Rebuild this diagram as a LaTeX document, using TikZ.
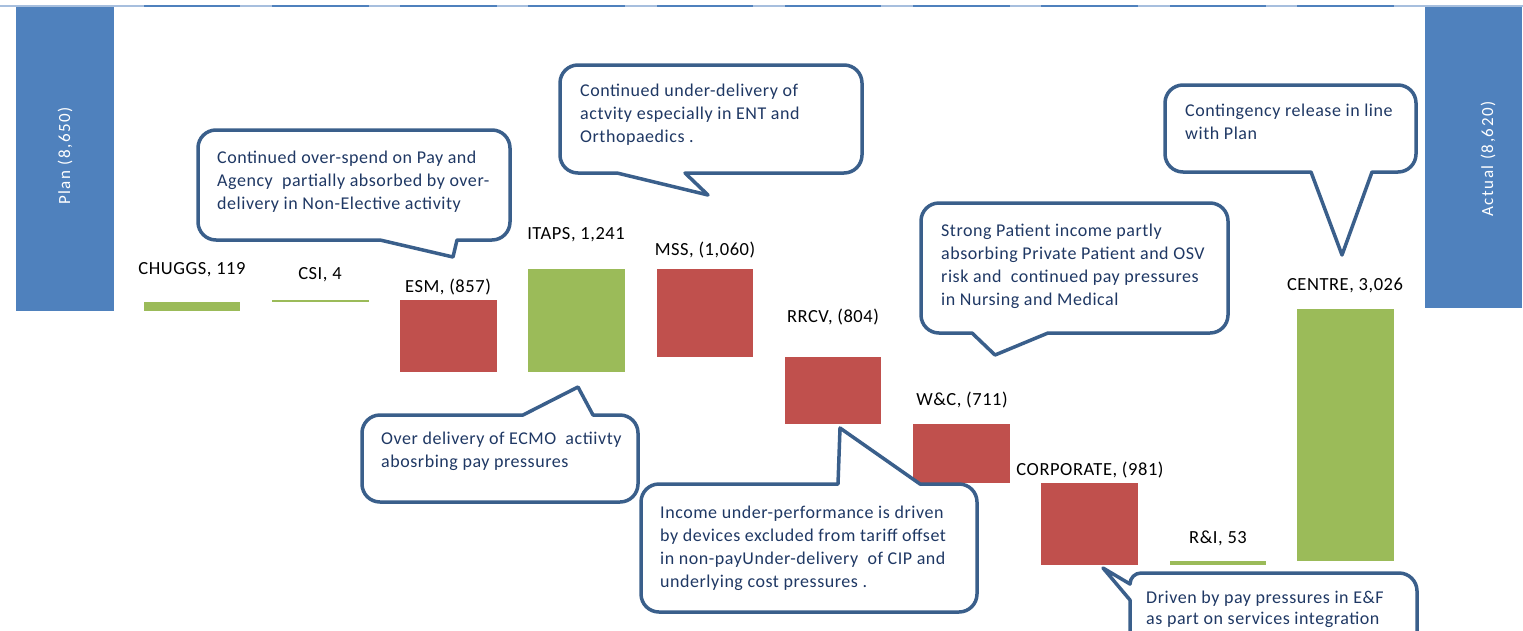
\documentclass[tikz,border=0pt]{standalone}
\usepackage{fontspec}
\setmainfont{Carlito}[LetterSpace=3]
\newfontfamily\widefont{Carlito}[LetterSpace=9]
\definecolor{barblue}{HTML}{4F81BD}
\definecolor{bargreen}{HTML}{9BBB59}
\definecolor{barred}{HTML}{C0504D}
\definecolor{callline}{HTML}{3A5F8B}
\definecolor{calltext}{HTML}{1F3864}
\definecolor{lightline}{HTML}{A7BFDE}
\begin{document}
\begin{tikzpicture}[x=1pt,y=-1pt,
  lbl/.style={font=\fontsize{18.5}{22}\selectfont, text=black, inner sep=0},
  ctext/.style={font=\fontsize{18}{23}\selectfont, text=calltext, align=left, anchor=north west, inner sep=0},
  callout/.style={draw=callline, line width=3.5pt, fill=white, line join=round},
  vtext/.style={font=\widefont\fontsize{17}{20}\selectfont, text=white, rotate=90, inner sep=0}]
\useasboundingbox (0,0) rectangle (1523,630);
\clip (0,0) rectangle (1523,630);
% top axis line
\draw[lightline, line width=2pt] (0,6) -- (1523,6);
\foreach \a/\b in {144/240,272/369,400/497,528/625,657/753,785/881,913/1010,1041/1138,1170/1266,1297/1394}
  \draw[barblue, line width=2pt] (\a,6) -- (\b,6);
% bars
\fill[barblue] (16,7) rectangle (114,311);
\fill[bargreen] (144,302) rectangle (240,311);
\fill[bargreen] (272,300) rectangle (369,302);
\fill[barred] (400,300) rectangle (497,372);
\fill[bargreen] (528,269) rectangle (625,372);
\fill[barred] (657,269) rectangle (753,357);
\fill[barred] (785,357) rectangle (881,424);
\fill[barred] (913,424) rectangle (1010,483);
\fill[barred] (1041,483) rectangle (1138,565);
\fill[bargreen] (1170,561) rectangle (1266,565);
\fill[bargreen] (1297,309) rectangle (1394,561);
\fill[barblue] (1425,7) rectangle (1522,308);
% vertical texts
\node[vtext] (plan) at (65,156) {Plan (8,650)};
\node[vtext] (actual) at (1488,159) {Actual (8,620)};
% labels
\node[lbl] (lchuggs) at (192,270) {CHUGGS,\ 119};
\node[lbl] (lcsi) at (320,275) {CSI, 4};
\node[lbl] (lesm) at (448,287) {ESM, (857)};
\node[lbl] (litaps) at (576,235) {ITAPS, 1,241};
\node[lbl] (lmss) at (705,250) {MSS, (1,060)};
\node[lbl] (lrrcv) at (833,317) {RRCV, (804)};
\node[lbl] (lwc) at (962,400) {W\&C, (711)};
\node[lbl] (lcorp) at (1090,470) {CORPORATE,\ (981)};
\node[lbl] (lri) at (1218,538) {R\&I, 53};
\node[lbl] (lcentre) at (1345,285) {CENTRE,\ 3,026};
% callout 1
\path[callout] (216,130) -- (492,130) arc[start angle=-90,end angle=0,radius=18]
  -- (510,222) arc[start angle=0,end angle=90,radius=18]
  -- (457,240) -- (453,257) -- (380,240)
  -- (216,240) arc[start angle=90,end angle=180,radius=18]
  -- (198,148) arc[start angle=180,end angle=270,radius=18] -- cycle;
\node[ctext] (c1) at (217,151) {Continued over-spend on Pay and\\Agency\ \ partially absorbed by over-\\delivery in Non-Elective activity};
% callout 2
\path[callout] (578,65) -- (844,65) arc[start angle=-90,end angle=0,radius=18]
  -- (862,155) arc[start angle=0,end angle=90,radius=18]
  -- (685,173) -- (708,195) -- (617,173)
  -- (578,173) arc[start angle=90,end angle=180,radius=18]
  -- (560,83) arc[start angle=180,end angle=270,radius=18] -- cycle;
\node[ctext] (c2) at (580,84) {Continued under-delivery of\\actvity especially in ENT and\\Orthopaedics .};
% callout 3
\path[callout] (1183,85) -- (1398,85) arc[start angle=-90,end angle=0,radius=18]
  -- (1416,154) arc[start angle=0,end angle=90,radius=18]
  -- (1372,172) -- (1342,255) -- (1311,172)
  -- (1183,172) arc[start angle=90,end angle=180,radius=18]
  -- (1165,103) arc[start angle=180,end angle=270,radius=18] -- cycle;
\node[ctext] (c3) at (1185,104) {Contingency release in line\\with Plan};
% callout 4
\path[callout] (939,203) -- (1210,203) arc[start angle=-90,end angle=0,radius=18]
  -- (1228,315) arc[start angle=0,end angle=90,radius=18]
  -- (1048,333) -- (995,355) -- (972,333)
  -- (939,333) arc[start angle=90,end angle=180,radius=18]
  -- (921,221) arc[start angle=180,end angle=270,radius=18] -- cycle;
\node[ctext] (c4) at (941,224) {Strong Patient income partly\\absorbing Private Patient and OSV\\risk and\ \ continued pay pressures\\in Nursing and Medical};
% callout 5
\path[callout] (380,415) -- (523,415) -- (578,387) -- (593,415)
  -- (620,415) arc[start angle=-90,end angle=0,radius=18]
  -- (638,484) arc[start angle=0,end angle=90,radius=18]
  -- (380,502) arc[start angle=90,end angle=180,radius=18]
  -- (362,433) arc[start angle=180,end angle=270,radius=18] -- cycle;
\node[ctext] (c5) at (381,432) {Over delivery of ECMO\ \ actiivty\\abosrbing pay pressures};
% callout 6
\path[callout] (659,484) -- (838,484) -- (840,428) -- (920,484)
  -- (959,484) arc[start angle=-90,end angle=0,radius=18]
  -- (977,594) arc[start angle=0,end angle=90,radius=18]
  -- (659,612) arc[start angle=90,end angle=180,radius=18]
  -- (641,502) arc[start angle=180,end angle=270,radius=18] -- cycle;
\node[ctext] (c6) at (660,506) {Income under-performance is driven\\by devices excluded from tariff offset\\in non-payUnder-delivery\ \ of CIP and\\underlying cost pressures .};
% callout 7
\path[callout] (1148,573) -- (1399,573) arc[start angle=-90,end angle=0,radius=18]
  -- (1417,680) -- (1130,680) -- (1130,600) -- (1103,568) -- (1130,584)
  arc[start angle=180,end angle=270,radius=11] -- cycle;
\node[ctext, font=\fontsize{18}{21}\selectfont] (c7) at (1146,591) {Driven by pay pressures in E\&F\\as part on services integration};
\end{tikzpicture}
\end{document}
